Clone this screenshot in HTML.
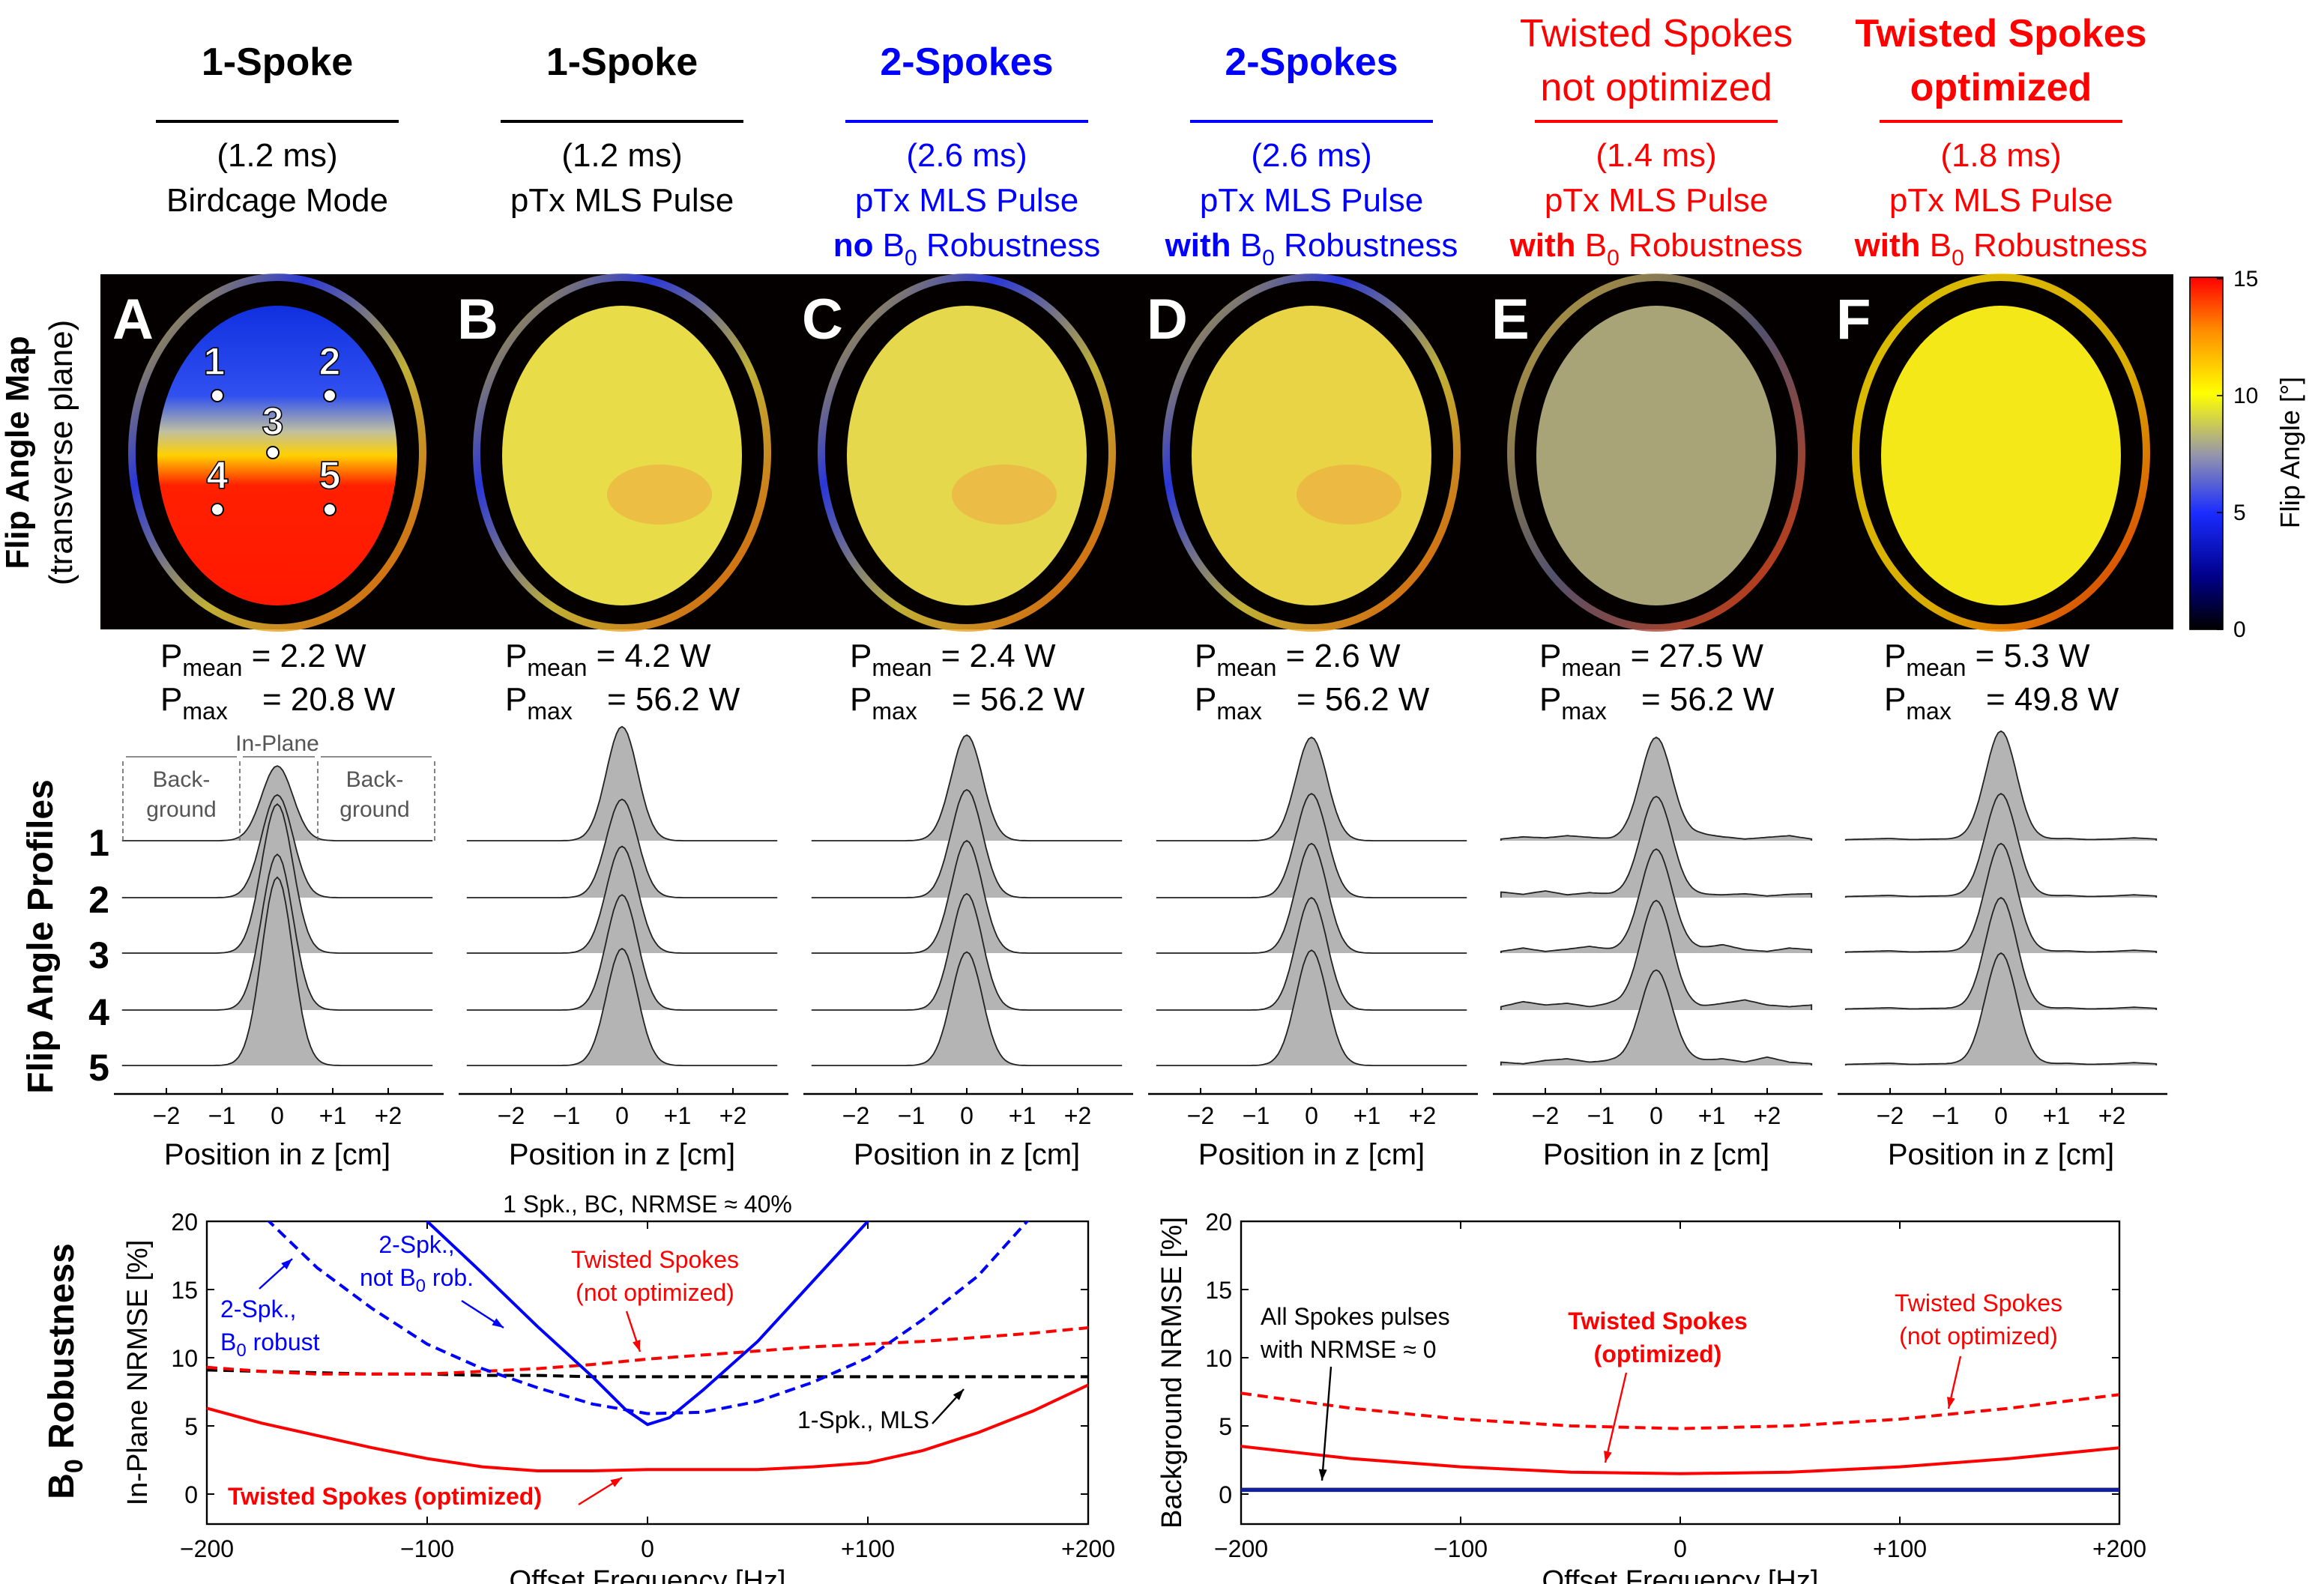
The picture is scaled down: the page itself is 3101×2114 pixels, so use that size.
<!DOCTYPE html>
<html><head><meta charset="utf-8"><style>
html,body{margin:0;padding:0;background:#fff}
svg{display:block;font-family:"Liberation Sans",sans-serif}
</style></head><body>
<svg id="fig" width="3101" height="2114" viewBox="0 0 1550.5 1057" xmlns="http://www.w3.org/2000/svg">
<defs>
<linearGradient id="cbar" x1="0" y1="1" x2="0" y2="0">
<stop offset="0" stop-color="#000"/><stop offset="0.15" stop-color="#00008a"/><stop offset="0.33" stop-color="#1a2cff"/><stop offset="0.5" stop-color="#9898a8"/><stop offset="0.67" stop-color="#ffff00"/><stop offset="0.85" stop-color="#ff8c00"/><stop offset="1" stop-color="#ff0000"/>
</linearGradient>
<linearGradient id="brainA" x1="0" y1="0" x2="0" y2="1">
<stop offset="0" stop-color="#1030e0"/><stop offset="0.3" stop-color="#3050f0"/><stop offset="0.42" stop-color="#c0c0a0"/><stop offset="0.5" stop-color="#ffd000"/><stop offset="0.6" stop-color="#ff2000"/><stop offset="1" stop-color="#ff1800"/>
</linearGradient>
<linearGradient id="ring" x1="0" y1="0" x2="1" y2="1">
<stop offset="0" stop-color="#ffe000"/><stop offset="0.3" stop-color="#3040ff"/><stop offset="0.6" stop-color="#e0d040"/><stop offset="1" stop-color="#ff6000"/>
</linearGradient>
<linearGradient id="ringE" x1="0" y1="0" x2="1" y2="1">
<stop offset="0" stop-color="#e0c040"/><stop offset="0.5" stop-color="#606080"/><stop offset="1" stop-color="#ff4000"/>
</linearGradient>
<linearGradient id="ringF" x1="0" y1="0" x2="1" y2="1">
<stop offset="0" stop-color="#ffe000"/><stop offset="0.6" stop-color="#ffcc00"/><stop offset="1" stop-color="#ff3000"/>
</linearGradient>
<clipPath id="clipL"><rect x="138" y="815" width="588" height="202"/></clipPath>
<clipPath id="clipR"><rect x="828" y="815" width="586" height="202"/></clipPath>
</defs>
<g id="headers"></g>
<rect x="67" y="183" width="1383" height="237" fill="#050000"/>
<g id="maps"></g>
<rect x="1461" y="185" width="22" height="235" fill="url(#cbar)" stroke="#000" stroke-width="0.8"/>
<g id="cbarticks" font-size="15"></g>
<text transform="translate(1534,302) rotate(-90)" text-anchor="middle" font-size="18">Flip Angle [°]</text>
<text transform="translate(19,302) rotate(-90)" text-anchor="middle" font-size="22" font-weight="bold">Flip Angle Map</text>
<text transform="translate(48,302) rotate(-90)" text-anchor="middle" font-size="22">(transverse plane)</text>
<g id="power" font-size="22"></g>
<g id="profiles"></g>
<text transform="translate(35,625) rotate(-90)" text-anchor="middle" font-size="24" font-weight="bold">Flip Angle Profiles</text>
<g id="rowlabels" font-size="25" font-weight="bold"></g>
<g id="bottom"></g>
<text transform="translate(49,915) rotate(-90)" text-anchor="middle" font-size="24" font-weight="bold">B<tspan font-size="17" dy="6">0</tspan><tspan dy="-6"> Robustness</tspan></text>
</svg>
<script>
var colCenters = [185, 415, 645, 875, 1105, 1335];
var letters = ["A","B","C","D","E","F"];
var pMean = ["2.2","4.2","2.4","2.6","27.5","5.3"];
var pMax = ["20.8","56.2","56.2","56.2","56.2","49.8"];
var profileTicks = [-2,-1,0,1,2];
var profileTickLabels = ["\u22122","\u22121","0","+1","+2"];
var peakA = [1.33,1.83,2.65,2.77,3.35];
var peakB = [2.03,1.75,1.9,2.05,2.08];
var peakC = [1.88,1.92,2.0,2.07,2.02];
var peakD = [1.84,1.85,1.95,2.0,2.05];
var peakE = [1.84,1.8,1.85,1.95,1.7];
var peakF = [1.95,1.85,1.95,2.0,2.0];
var rippleZ = [-2.8,-2.4,-2.0,-1.6,-1.2,-0.8,0.8,1.2,1.6,2.0,2.4,2.8];
var rippleE1 = [0.03,0.07,0.05,0.09,0.06,0.03,0.12,0.07,0.03,0.06,0.09,0.03];
var rippleE2 = [0.1,0.06,0.12,0.05,0.09,0.06,0.06,0.05,0.07,0.03,0.06,0.07];
var rippleE3 = [0.03,0.09,0.03,0.07,0.12,0.06,0.09,0.15,0.06,0.03,0.09,0.06];
var rippleE4 = [0.06,0.15,0.09,0.12,0.06,0.12,0.06,0.12,0.18,0.09,0.06,0.09];
var rippleE5 = [0.06,0.03,0.09,0.12,0.06,0.09,0.09,0.12,0.06,0.15,0.06,0.03];
var rippleF = [0.02,0.03,0.04,0.02,0.03,0.03,0.03,0.04,0.02,0.03,0.05,0.03];
var freqTicks = [-200,-100,0,100,200];
var freqTickLabels = ["\u2212200","\u2212100","0","+100","+200"];
var nrmseTicks = [0,5,10,15,20];
var freqL = [-200,-175,-150,-125,-100,-75,-50,-25,0,25,50,75,100,125,150,175,200];
var blueDashL = [26,20.5,16.6,13.6,11,9.2,7.8,6.6,5.9,6.0,6.8,8.2,10,12.8,16,20.5,25];
var redDashL = [9.3,9.0,8.8,8.8,8.8,9.0,9.2,9.5,9.9,10.2,10.5,10.8,11.0,11.2,11.5,11.8,12.2];
var blackDashL = [9.1,9.0,8.9,8.8,8.8,8.7,8.7,8.6,8.6,8.6,8.6,8.6,8.6,8.6,8.6,8.6,8.6];
var redSolidL = [6.3,5.2,4.3,3.4,2.6,2.0,1.7,1.7,1.8,1.8,1.8,2.0,2.3,3.2,4.5,6.1,8.0];
var freqBlue = [-120,-100,-75,-50,-25,-10,0,10,25,50,75,100,120];
var blueSolidL = [24,20,16.2,12.3,8.6,6.2,5.1,5.6,7.6,11.2,15.6,20,24];
var freqR = [-200,-150,-100,-50,0,50,100,150,200];
var redDashR = [7.4,6.3,5.5,5.0,4.8,5.0,5.5,6.3,7.3];
var redSolidR = [3.5,2.6,2.0,1.6,1.5,1.6,2.0,2.6,3.4];
var blackR = [0.35,0.35,0.35,0.35,0.35,0.35,0.35,0.35,0.35];
var blueR = [0.3,0.3,0.3,0.3,0.3,0.3,0.3,0.3,0.3];

var NS="http://www.w3.org/2000/svg";
function mk(tag, attrs, parent, txt){var e=document.createElementNS(NS,tag);for(var k in attrs)e.setAttribute(k,attrs[k]);if(txt!==undefined)e.textContent=txt;parent.appendChild(e);return e;}
var g;

g=document.getElementById('headers');
var hdr=[
 {t:["1-Spoke"],c:"#000",l:["(1.2 ms)","Birdcage Mode"]},
 {t:["1-Spoke"],c:"#000",l:["(1.2 ms)","pTx MLS Pulse"]},
 {t:["2-Spokes"],c:"#0000ff",l:["(2.6 ms)","pTx MLS Pulse","no"]},
 {t:["2-Spokes"],c:"#0000ff",l:["(2.6 ms)","pTx MLS Pulse","with"]},
 {t:["Twisted Spokes","not optimized"],c:"#ff0000",l:["(1.4 ms)","pTx MLS Pulse","with"],nb:true},
 {t:["Twisted Spokes","optimized"],c:"#ff0000",l:["(1.8 ms)","pTx MLS Pulse","with"]}
];
hdr.forEach(function(h,i){
 var cx=colCenters[i];
 var hg=mk('g',{},g);
 
 
 if(h.t.length==1){mk('text',{x:cx,y:50,'text-anchor':'middle','font-size':26,'font-weight':'bold',fill:h.c},hg,h.t[0]);}
 else{h.t.forEach(function(s,j){mk('text',{x:cx,y:31+j*36,'text-anchor':'middle','font-size':26,'font-weight':h.nb?'normal':'bold',fill:h.c},hg,s);});}
 mk('line',{x1:cx-81,x2:cx+81,y1:81,y2:81,stroke:h.c,'stroke-width':2},hg);
 mk('text',{x:cx,y:111,'text-anchor':'middle','font-size':22,fill:h.c},hg,h.l[0]);
 mk('text',{x:cx,y:141,'text-anchor':'middle','font-size':22,fill:h.c},hg,h.l[1]);
 if(h.l[2]){var t=mk('text',{x:cx,y:171,'text-anchor':'middle','font-size':22,fill:h.c},hg);
  mk('tspan',{'font-weight':'bold'},t,h.l[2]+" ");mk('tspan',{},t,"B");mk('tspan',{'font-size':15,dy:6},t,"0");mk('tspan',{dy:-6},t," Robustness");}
});

g=document.getElementById('maps');
var brainFill=["url(#brainA)","#e8dc48","#e6d84c","#e8d444","#a8a478","#f4e818"];
var ringStroke=["url(#ring)","url(#ring)","url(#ring)","url(#ring)","url(#ringE)","url(#ringF)"];
colCenters.forEach(function(cx,i){
 var mg=mk('g',{},g);
 
 
 mk('ellipse',{cx:cx,cy:302,rx:97,ry:117,fill:'none',stroke:ringStroke[i],'stroke-width':5,opacity:0.85},mg);
 mk('ellipse',{cx:cx,cy:304,rx:80,ry:100,fill:brainFill[i]},mg);
 if(i>0&&i<4){mk('ellipse',{cx:cx+25,cy:330,rx:35,ry:20,fill:'#f0a040',opacity:0.5},mg);}
 mk('text',{x:cx-110,y:226,'font-size':38,'font-weight':'bold',fill:'#fff'},mg,letters[i]);
});
var pts=[[145,264,"1",-2,-14],[220,264,"2",0,-14],[182,302,"3",0,-12],[145,340,"4",0,-14],[220,340,"5",0,-14]];
pts.forEach(function(p){
 var c=mk('circle',{cx:p[0],cy:p[1],r:4,fill:'#fff',stroke:'#000','stroke-width':1},g);
 
 
 mk('text',{x:p[0]+p[3],y:p[1]+p[4],'text-anchor':'middle','font-size':26,'font-weight':'bold',fill:'#fff',stroke:'#000','stroke-width':0.8},g,p[2]);
});
g=document.getElementById('cbarticks');
[[0,420],[5,342],[10,264],[15,186]].forEach(function(t){
 mk('line',{x1:1483,x2:1479,y1:t[1],y2:t[1],stroke:'#000','stroke-width':0.8},g);
 mk('text',{x:1490,y:t[1]+5,'font-size':15},g,String(t[0]));
});

g=document.getElementById('power');
colCenters.forEach(function(cx,i){
 var t=mk('text',{x:cx-78,y:445},g);
 
 
 mk('tspan',{},t,"P");mk('tspan',{'font-size':16,dy:6},t,"mean");mk('tspan',{dy:-6},t," = "+pMean[i]+" W");
 var t2=mk('text',{x:cx-78,y:474},g);
 
 
 mk('tspan',{},t2,"P");mk('tspan',{'font-size':16,dy:6},t2,"max");mk('tspan',{dy:-6,x:cx-10},t2,"= "+pMax[i]+" W");
});

g=document.getElementById('profiles');
var peaks=[peakA,peakB,peakC,peakD,peakE,peakF];
var ripples=[null,null,null,null,[rippleE1,rippleE2,rippleE3,rippleE4,rippleE5],[rippleF,rippleF,rippleF,rippleF,rippleF]];
var baseY=[561,599,636,674,711], spacing=37.5, pxcm=37;
function rip(arr,z){if(!arr)return 0;for(var k=0;k<rippleZ.length-1;k++){if(z>=rippleZ[k]&&z<=rippleZ[k+1]){var f=(z-rippleZ[k])/(rippleZ[k+1]-rippleZ[k]);return arr[k]*(1-f)+arr[k+1]*f;}}return 0;}
colCenters.forEach(function(cx,i){
 var pg=mk('g',{},g);
 
 
 for(var r=0;r<5;r++){
  var d="M"+(cx-2.8*pxcm)+","+baseY[r];
  for(var z=-2.8;z<=2.801;z+=0.05){
   var rp=ripples[i]?rip(ripples[i][r],z):0;
   var v=peaks[i][r]*Math.exp(-z*z/(2*0.28*0.28))+rp*Math.max(0,1-Math.exp(-z*z/(2*0.3*0.3)));
   d+=" L"+(cx+z*pxcm).toFixed(1)+","+(baseY[r]-v*spacing).toFixed(1);
  }
  d+=" L"+(cx+2.8*pxcm)+","+baseY[r];
  var p=mk('path',{d:d+" Z",fill:'#b4b4b4',stroke:'none'},pg);
  
  
  mk('path',{d:d,fill:'none',stroke:'#222','stroke-width':0.9},pg);
 }
 var ax=mk('line',{x1:cx-109,x2:cx+111,y1:730,y2:730,stroke:'#000','stroke-width':1.2},pg);
 
 
 profileTicks.forEach(function(t,k){
  var x=cx+t*pxcm;
  mk('line',{x1:x,x2:x,y1:730,y2:726,stroke:'#000','stroke-width':1},pg);
  mk('text',{x:x,y:750,'text-anchor':'middle','font-size':16},pg,profileTickLabels[k]);
 });
 var xl=mk('text',{x:cx,y:777,'text-anchor':'middle','font-size':20},pg,"Position in z [cm]");
 
 
});
(function(){
 var a=mk('g',{stroke:'#666','stroke-width':0.8,fill:'none'},g);
 
 
 mk('path',{d:"M82,561 V507 M160,561 V507 M212,561 V507 M290,561 V507",'stroke-dasharray':'3,2'},a);
 mk('path',{d:"M84,505 H158 M162,505 H210 M214,505 H288"},a);
 mk('text',{x:185,y:501,'text-anchor':'middle','font-size':15,fill:'#555',stroke:'none'},g,"In-Plane");
 mk('text',{x:121,y:525,'text-anchor':'middle','font-size':15,fill:'#555'},g,"Back-");
 mk('text',{x:121,y:545,'text-anchor':'middle','font-size':15,fill:'#555'},g,"ground");
 mk('text',{x:250,y:525,'text-anchor':'middle','font-size':15,fill:'#555'},g,"Back-");
 mk('text',{x:250,y:545,'text-anchor':'middle','font-size':15,fill:'#555'},g,"ground");
})();
g=document.getElementById('rowlabels');
baseY.forEach(function(y,r){var t=mk('text',{x:66,y:y+10,'text-anchor':'middle'},g,String(r+1));
 
 });

g=document.getElementById('bottom');
function chart(x0,x1,clip,name,ylabel){
 var top=815,bot=1017;
 var sx=function(f){return x0+(f+200)/400*(x1-x0);};
 var sy=function(v){return 997-v*9.1;};
 var cg=mk('g',{},g);
 
 
 mk('rect',{x:x0,y:top,width:x1-x0,height:bot-top,fill:'none',stroke:'#000','stroke-width':1.2},cg);
 freqTicks.forEach(function(f,k){var x=sx(f);
  mk('line',{x1:x,x2:x,y1:bot,y2:bot-5,stroke:'#000'},cg);mk('line',{x1:x,x2:x,y1:top,y2:top+5,stroke:'#000'},cg);
  mk('text',{x:x,y:1039,'text-anchor':'middle','font-size':16},cg,freqTickLabels[k]);});
 nrmseTicks.forEach(function(v){var y=sy(v);
  mk('line',{x1:x0,x2:x0+5,y1:y,y2:y,stroke:'#000'},cg);mk('line',{x1:x1,x2:x1-5,y1:y,y2:y,stroke:'#000'},cg);
  mk('text',{x:x0-6,y:y+6,'text-anchor':'end','font-size':16},cg,String(v));});
 var xt=mk('text',{x:(x0+x1)/2,y:1061,'text-anchor':'middle','font-size':19},cg,"Offset Frequency [Hz]");
 
 
 var yt=mk('text',{transform:'translate('+(x0-40)+',916) rotate(-90)','text-anchor':'middle','font-size':19},cg,ylabel);
 
 
 var pl=mk('g',{'clip-path':'url(#'+clip+')'},cg);
 return {sx:sx,sy:sy,g:pl,cg:cg};
}
function line(c,xs,ys,color,dash,w,name){
 var d=xs.map(function(f,k){return (k?"L":"M")+c.sx(f).toFixed(1)+","+c.sy(ys[k]).toFixed(1);}).join(" ");
 var p=mk('path',{d:d,fill:'none',stroke:color,'stroke-width':w||2,'stroke-dasharray':dash||'none'},c.g);
 
 
}
var L=chart(138,726,'clipL','inplane-nrmse-chart','In-Plane NRMSE [%]');
line(L,freqL,blackDashL,'#000','7,4',2,'line-1spk-mls');
line(L,freqL,redDashL,'#ff0000','7,4',2,'line-twisted-not-optimized');
line(L,freqL,blueDashL,'#0000ff','7,4',2,'line-2spk-b0-robust');
line(L,freqBlue,blueSolidL,'#0000ff',null,2,'line-2spk-not-robust');
line(L,freqL,redSolidL,'#ff0000',null,2,'line-twisted-optimized');
var R=chart(828,1414,'clipR','background-nrmse-chart','Background NRMSE [%]');
line(R,freqR,redDashR,'#ff0000','7,4',2,'bg-line-twisted-not-optimized');
line(R,freqR,redSolidR,'#ff0000',null,2,'bg-line-twisted-optimized');
line(R,freqR,blackR,'#000',null,2,'bg-line-1spk');
line(R,freqR,blueR,'#1020a0',null,2.5,'bg-line-2spk');
function txt(x,y,s,c,sz,b,anchor){return mk('text',{x:x,y:y,fill:c,'font-size':sz,'font-weight':b?'bold':'normal','text-anchor':anchor||'middle'},g,s);}
function arrow(x1,y1,x2,y2,c){mk('line',{x1:x1,y1:y1,x2:x2,y2:y2,stroke:c,'stroke-width':1.2},g);
 var a=Math.atan2(y2-y1,x2-x1),s=8;
 mk('path',{d:"M"+x2+","+y2+" L"+(x2-s*Math.cos(a-0.35))+","+(y2-s*Math.sin(a-0.35))+" L"+(x2-s*Math.cos(a+0.35))+","+(y2-s*Math.sin(a+0.35))+"Z",fill:c},g);}
txt(432,809,"1 Spk., BC, NRMSE \u2248 40%","#000",16);
txt(278,836,"2-Spk.,","#0000ff",16);
var t=txt(278,858,"not B","#0000ff",16);mk('tspan',{'font-size':12,dy:4},t,"0");mk('tspan',{dy:-4},t," rob.");
arrow(308,868,336,886,'#0000ff');
txt(147,879,"2-Spk.,","#0000ff",16,false,'start');
t=txt(147,901,"B","#0000ff",16,false,'start');mk('tspan',{'font-size':12,dy:4},t,"0");mk('tspan',{dy:-4},t," robust");
arrow(173,860,195,840,'#0000ff');
txt(437,846,"Twisted Spokes","#ff0000",16);
txt(437,868,"(not optimized)","#ff0000",16);
arrow(418,875,427,902,'#ff0000');
txt(620,953,"1-Spk., MLS","#000",16,false,'end');
arrow(622,950,643,927,'#000');
txt(152,1004,"Twisted Spokes (optimized)","#ff0000",16,true,'start');
arrow(386,1004,415,986,'#ff0000');
txt(841,884,"All Spokes pulses","#000",16,false,'start');
txt(841,906,"with NRMSE \u2248 0","#000",16,false,'start');
arrow(888,912,882,988,'#000');
txt(1106,887,"Twisted Spokes","#ff0000",16,true);
txt(1106,909,"(optimized)","#ff0000",16,true);
arrow(1085,916,1071,976,'#ff0000');
txt(1320,875,"Twisted Spokes","#ff0000",16);
txt(1320,897,"(not optimized)","#ff0000",16);
arrow(1308,905,1300,940,'#ff0000');
</script>
</body></html>
